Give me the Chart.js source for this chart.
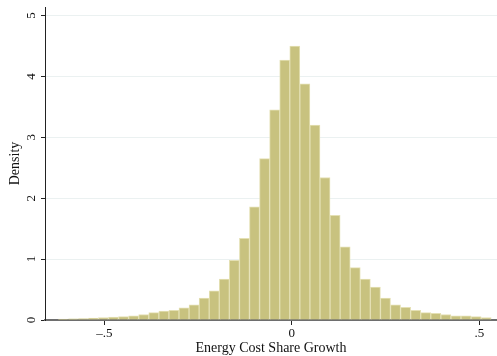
<!DOCTYPE html>
<html>
<head>
<meta charset="utf-8">
<script src="https://cdn.jsdelivr.net/npm/chart.js@4.4.1/dist/chart.umd.min.js"></script>
<style>
  html, body { margin: 0; padding: 0; background: #ffffff; }
  #wrap { width: 497px; height: 356px; position: relative; }
</style>
</head>
<body>
<div id="wrap"><canvas id="hist"></canvas></div>
<script>
// Histogram of energy cost share growth (density scale)
const binStart = -0.623;      // lower edge of the first bin
const binWidth = 0.02685;     // width of each bin
const densities = [
  0.015, 0.02, 0.025, 0.03, 0.04, 0.05, 0.055, 0.07, 0.09, 0.12,
  0.145, 0.16, 0.20, 0.25, 0.36, 0.48, 0.67, 0.98, 1.34, 1.86,
  2.65, 3.45, 4.27, 4.50, 3.88, 3.20, 2.34, 1.72, 1.20, 0.86,
  0.67, 0.54, 0.36, 0.25, 0.21, 0.16, 0.12, 0.11, 0.09, 0.07,
  0.07, 0.055, 0.04
];
const xTicks = [-0.5, 0, 0.5];
const xTickLabels = ['\u2013.5', '0', '.5'];
const yTicks = [0, 1, 2, 3, 4, 5];
const xTitle = 'Energy Cost Share Growth';
const yTitle = 'Density';

const points = densities.map((d, i) => ({ x: binStart + (i + 0.5) * binWidth, y: d }));

const serif = "'Liberation Serif', 'DejaVu Serif', serif";

new Chart(document.getElementById('hist'), {
  type: 'bar',
  data: {
    datasets: [{
      data: points,
      backgroundColor: '#c8c27f',
      borderColor: '#e4e0b4',
      borderWidth: 1,
      borderSkipped: 'bottom',
      barPercentage: 1.0,
      categoryPercentage: 1.0
    }]
  },
  options: {
    responsive: true,
    maintainAspectRatio: false,
    animation: false,
    layout: { padding: { top: 7, right: 0, bottom: 0, left: 0 } },
    plugins: { legend: { display: false }, tooltip: { enabled: false } },
    scales: {
      x: {
        type: 'linear',
        offset: false,
        min: -0.658,
        max: 0.547,
        afterBuildTicks: (s) => { s.ticks = xTicks.map(v => ({ value: v })); },
        afterFit: (s) => { s.height = 36; s.paddingLeft = 0; s.paddingRight = 0; },
        grid: { display: true, offset: false, drawOnChartArea: false, drawTicks: true, tickLength: 5, tickColor: '#222', tickWidth: 1 },
        border: { display: true, color: '#6e6e6e', width: 2 },
        ticks: {
          padding: 1,
          color: '#111',
          font: { family: serif, size: 13 },
          maxRotation: 0,
          callback: (v) => { const i = xTicks.indexOf(v); return i >= 0 ? xTickLabels[i] : ''; }
        },
        title: { display: true, text: xTitle, color: '#111', font: { family: serif, size: 14 }, padding: { top: 1, bottom: -1 } }
      },
      y: {
        min: 0,
        max: 5.14,
        afterBuildTicks: (s) => { s.ticks = yTicks.map(v => ({ value: v })); },
        afterFit: (s) => { s.width = 45; s.paddingTop = 0; s.paddingBottom = 0; },
        grid: { color: '#ebf1f1', lineWidth: 1, drawTicks: true, tickLength: 4, tickColor: '#222', tickWidth: 1 },
        border: { display: true, color: '#222', width: 1 },
        ticks: {
          padding: 6,
          minRotation: 90,
          maxRotation: 90,
          crossAlign: 'center',
          color: '#111',
          font: { family: serif, size: 13 }
        },
        title: { display: true, text: yTitle, color: '#111', font: { family: serif, size: 14 }, padding: { top: 7, bottom: 0 } }
      }
    }
  }
});
</script>
</body>
</html>
